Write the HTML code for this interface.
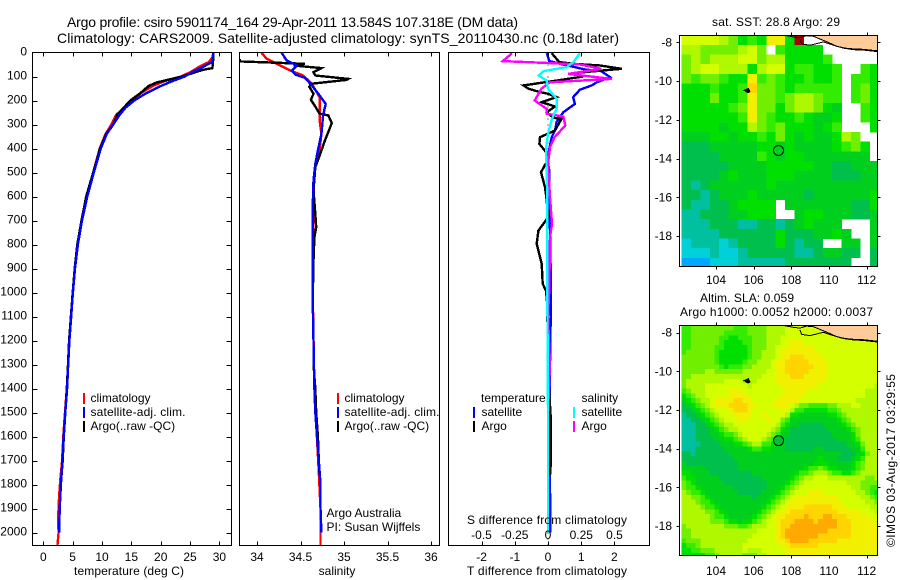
<!DOCTYPE html>
<html>
<head>
<meta charset="utf-8">
<title>Argo profile</title>
<style>
html,body{margin:0;padding:0;background:#fff;}
svg{display:block;}
text{font-family:"Liberation Sans",sans-serif;font-size:12px;fill:#000;}
</style>
</head>
<body>
<svg id="chart" xmlns="http://www.w3.org/2000/svg" width="900" height="580" viewBox="0 0 900 580">
  <defs>
    <clipPath id="clip-t"><rect x="33" y="53" width="198" height="492"/></clipPath>
    <clipPath id="clip-s"><rect x="240" y="53" width="199" height="492"/></clipPath>
    <clipPath id="clip-d"><rect x="449" y="53" width="200" height="492"/></clipPath>
    <clipPath id="clip-m1"><rect x="680" y="36" width="197" height="231"/></clipPath>
    <clipPath id="clip-m2"><rect x="680" y="326" width="197" height="230"/></clipPath>
  </defs>
  <g id="layer-maps"></g>
  <g id="layer-series"></g>
  <g id="layer-axes"></g>

  <text x="67" y="27" style="font-size:14px" textLength="451" lengthAdjust="spacing">Argo profile: csiro 5901174_164 29-Apr-2011 13.584S 107.318E (DM data)</text>
  <text x="57" y="43" style="font-size:14px" textLength="562" lengthAdjust="spacing">Climatology: CARS2009. Satellite-adjusted climatology: synTS_20110430.nc (0.18d later)</text>

  <text x="129" y="575" text-anchor="middle" textLength="110">temperature (deg C)</text>
  <text x="337" y="575" text-anchor="middle">salinity</text>
  <text x="547" y="575" text-anchor="middle" textLength="160">T difference from climatology</text>
  <text x="547" y="524" text-anchor="middle" textLength="160">S difference from climatology</text>

  <g>
    <rect x="83" y="393" width="2" height="11" fill="#f00"/>
    <text x="90.5" y="402">climatology</text>
    <rect x="83" y="407" width="2" height="11" fill="#00f"/>
    <text x="90.5" y="416" textLength="95">satellite-adj. clim.</text>
    <rect x="83" y="421" width="2" height="11" fill="#000"/>
    <text x="90.5" y="430">Argo(..raw -QC)</text>
  </g>
  <g>
    <rect x="337" y="393" width="2" height="11" fill="#f00"/>
    <text x="344.5" y="402">climatology</text>
    <rect x="337" y="407" width="2" height="11" fill="#00f"/>
    <text x="344.5" y="416" textLength="95">satellite-adj. clim.</text>
    <rect x="337" y="421" width="2" height="11" fill="#000"/>
    <text x="344.5" y="430">Argo(..raw -QC)</text>
  </g>
  <text x="326.5" y="517">Argo Australia</text>
  <text x="326.5" y="531">PI: Susan Wijffels</text>
  <g>
    <text x="481" y="402">temperature</text>
    <rect x="473" y="407" width="2" height="11" fill="#00f"/>
    <text x="481.5" y="416">satellite</text>
    <rect x="473" y="421" width="2" height="11" fill="#000"/>
    <text x="481.5" y="430">Argo</text>
    <text x="581.5" y="402">salinity</text>
    <rect x="573" y="407" width="2" height="11" fill="#0ff"/>
    <text x="581.5" y="416">satellite</text>
    <rect x="573" y="421" width="2" height="11" fill="#f0f"/>
    <text x="581.5" y="430">Argo</text>
  </g>

  <text x="776" y="26" text-anchor="middle" textLength="128">sat. SST: 28.8 Argo: 29</text>
  <text x="700" y="302" textLength="94">Altim. SLA: 0.059</text>
  <text x="680" y="316" textLength="193">Argo h1000: 0.0052 h2000: 0.0037</text>
  <text transform="translate(895,547) rotate(-90)" textLength="173">©IMOS 03-Aug-2017 03:29:55</text>
</svg>
<script>
// ---- profile data: depth arrays and values ----
const tempClimDepth = [0,20,40,60,80,100,120,140,170,200,230,260,300,340,400,500,600,700,800,900,1000,1100,1200,1300,1400,1500,1600,1700,1780,1850,1950,2000,2054];
const tempClim = [29,28.8,28.2,26.5,25.2,23.5,20.6,18.6,16.6,15,13.8,12.4,11.6,10.6,9.6,8.5,7.4,6.5,5.9,5.4,5,4.7,4.4,4.2,4,3.7,3.4,3.2,2.9,2.7,2.5,2.6,2.4];
const tempSatDepth = [0,20,40,60,80,100,120,140,170,200,230,260,300,340,400,500,600,700,800,900,1000,1100,1200,1300,1400,1500,1600,1700,1800,1900,2000];
const tempSat = [29,28.9,28.7,27.2,25.5,24.1,21.9,20,17.5,15.5,14,13,11.9,10.8,9.8,8.6,7.5,6.6,5.9,5.4,5.05,4.75,4.45,4.25,4.05,3.75,3.45,3.25,3,2.8,2.7];
const tempArgoDepth = [0,30,65,72,100,125,140,170,200,260,300,340,400,500,600,700,800,900,1000,1100,1200,1300,1400,1500,1600,1700,1762];
const tempArgo = [29,28.95,28.8,27.2,23.6,19.3,17.9,16.5,14.8,12.6,11.9,10.7,9.66,8.5,7.3,6.5,5.8,5.35,5,4.7,4.4,4.2,4,3.75,3.5,3.3,3.1];

const salClimDepth = [0,26,47,75,96,130,186,283,339,408,478,512,600,1000,1400,1750,1900,2054];
const salClim = [34.05,34.11,34.23,34.38,34.53,34.63,34.72,34.72,34.74,34.72,34.67,34.66,34.65,34.64,34.66,34.71,34.73,34.73];
const salSatDepth = [0,33,54,75,92,105,137,179,214,262,339,408,464,533,644,1033,1400,1500,1600,1700,1800,1900,2000];
const salSat = [34.28,34.34,34.46,34.4,34.44,34.55,34.63,34.72,34.79,34.76,34.74,34.7,34.67,34.65,34.64,34.64,34.66,34.67,34.69,34.71,34.73,34.73,34.74];
const salArgoDepth = [28,37,47,54,65,82,96,110,114,130,142,172,197,225,255,262,294,367,430,478,575,672,728,770,867,1033,1200,1300,1400,1500,1600,1700,1760];
const salArgo = [33.8,33.8,34.55,34.42,34.74,34.65,34.67,35.05,35.03,34.63,34.6,34.65,34.62,34.67,34.72,34.82,34.86,34.78,34.72,34.67,34.65,34.67,34.68,34.66,34.65,34.64,34.65,34.65,34.67,34.68,34.7,34.71,34.72];

const diffTSatDepth = [3,36,47,58,72,75,103,124,137,155,186,214,249,290,325,353,422,443,492,603,742,985,1100,1300,1500,1800,2000];
const diffTSat = [-0.04,0.04,0.36,0.71,1.16,1.57,1.87,1.47,1.32,0.96,0.76,0.81,0.46,0.26,0.21,0.11,0.01,-0.02,0.04,0.04,0.06,0.09,0.08,0.06,0.05,0.06,0.07];
const diffTArgoDepth = [3,40,47,54,68,86,100,117,137,151,165,172,186,207,225,249,272,276,325,353,381,415,443,499,561,617,686,742,797,881,964,992,1050,1100,1200,1400,1540,1700,1762];
const diffTArgo = [0.11,0.34,0.76,1.57,2.22,0.76,1.06,0.26,-0.74,-0.59,-0.24,0.01,0.26,-0.19,0.21,-0.04,0.16,0.41,0.21,-0.24,-0.26,-0.06,0.01,-0.21,-0.09,-0.04,0.01,-0.29,-0.34,-0.19,-0.16,-0.06,-0.02,-0.02,0,0.03,0.09,0.09,0.06];
const diffSArgoDepth = [3,36,44,50,68,89,110,124,151,200,235,255,267,304,353,394,464,603,714,769,985,1100,1300,1500,1760];
const diffSArgo = [-0.27,-0.34,0.015,0.24,0.4,0.15,0.48,0.015,-0.05,-0.1,-0.01,-0.01,0.115,0.13,0.05,0.015,0,0.015,0.03,0.015,0.01,0,0.015,0,0];
const diffSSatDepth = [3,40,61,78,96,117,151,193,235,276,339,401,492,603,985,1500,2000];
const diffSSat = [0.24,0.19,0.14,-0.035,-0.07,-0.01,0,0.065,0.065,0.03,0,-0.015,-0.01,-0.005,-0.005,0,0];

// ---- tick labels ----
const depthTicks = [0,100,200,300,400,500,600,700,800,900,1000,1100,1200,1300,1400,1500,1600,1700,1800,1900,2000];
const tempTicks = [0,5,10,15,20,25,30];
const salTicks = [34,34.5,35,35.5,36];
const diffTTicks = [-2,-1,0,1,2];
const diffSTicks = [-0.5,-0.25,0,0.25,0.5];
const sDiffLabels = ['-0.5','-0.25','0','0.25','0.5'];
const lonTicks = [104,106,108,110,112];
const latTicks = [-8,-10,-12,-14,-16,-18];

// ---- profile location, island and coast (lon / lat) ----
const argoLon = 107.318;
const argoLat = -13.584;
const islandLon = [105.45,105.72,105.8,105.7,105.55];
const islandLat = [-10.5,-10.38,-10.55,-10.6,-10.52];
const coastUpperLon = [107.58,108.1,108.46,108.8,109.17,109.6,109.95,110.4,110.85,111.3,111.8,112.57];
const coastUpperLat = [-7.62,-7.72,-7.76,-7.66,-7.69,-7.86,-8.0,-8.2,-8.3,-8.34,-8.36,-8.44];
const coastLowerLon = [108.46,108.55,109.0,109.7,110.23,110.76,111.3,111.8,112.57];
const coastLowerLat = [-7.86,-8.09,-8.15,-7.98,-8.15,-8.3,-8.38,-8.4,-8.48];

// ---- heatmap grids: one character per cell, north to south ('|' only groups columns) ----
const sstRows = [
"999987565aa5r........",
"887777897.65555......",
"7878889978855556.....",
"78998885899566556..65",
"7677655a676556556.665",
"5556556b776566666.675",
"5557556a776788766.675",
"5555567a775788754..65",
"5555556a765565445..65",
"55554558767555456...5",
"4445545565754544587..",
"33344444554544445675.",
"33334444654554444444.",
"333334444555554433444",
"333345444555444433344",
"323444444544444444444",
"332344454444434444445",
"3223345555.4444444335",
"2233344555..455444334",
"22233322332345444...4",
"222233333353334454..4",
"122212333353233..44.4",
"1112112333332234433.3",
"000111222223333333..3"
];
const slaRows = [
"6677777777|7666777788|8899999999|9999999999|99",
"6677777776|6666777788|8899999999|9999999999|99",
"6677777766|5566677788|8999999999|9999999999|99",
"6677777765|5556677788|899aaa9999|9999999999|99",
"6677777665|5555677788|99aaaaaa99|9999999999|99",
"6777777655|5555677888|9aaaaaaaa9|9999999999|99",
"7777777655|5555677888|9aabbbaaaa|9999999999|99",
"7777777655|5556778889|aabbbbbaaa|a999999999|99",
"7777777765|6667788889|aabbbbbbaa|a999999999|99",
"7777788777|7778888899|aabbbbbaaa|a999999999|99",
"7788888888|8888888999|aaabbbaaaa|a999999999|99",
"7888888889|9998889999|aaaaaaaaaa|9999999999|99",
"7888899999|9999899999|9aaaaaaaa9|9999999999|98",
"6788899999|aaa9999999|99aaaaa999|9999999998|88",
"5678899999|aaaa999999|9aaaaa9999|9999999998|88",
"4567889aaa|abbaa99999|aaaaa99999|9999999888|88",
"3456789aaa|bbbbaa999a|aaa9877666|6778889988|88",
"3345678999|abbba99999|9a98665555|5667888888|88",
"2334567899|9aaaa99a99|9985544444|4556788888|88",
"2233456789|99aa9999a9|9764444444|4445678888|88",
"2223345678|8999999999|8654433333|4444567888|88",
"2223334567|8899999998|7543333333|3444456788|88",
"2223334456|6789999987|6443333333|3344445788|88",
"2223333445|5678999876|5433333333|3334445688|88",
"2222333344|4556788665|4433333333|3333344578|88",
"2223333334|4444566554|4433333344|3333334468|88",
"3323333333|4444444444|4444444444|4444333457|88",
"3333333333|3444444444|4444444445|4443334568|88",
"4333333333|3344444444|4444444455|5444445678|88",
"4444433333|3344444444|4444445667|6554445678|88",
"5544443333|3333344444|4444566788|8766556788|88",
"6554444433|3333333444|4445678899|9888888887|78",
"7654444443|3333333344|4456789999|9999988877|77",
"7665444444|4333333344|4567899999|9999998877|66",
"8766544444|4433333444|5678999aaa|9999999887|65",
"8877654444|4444434445|6789aaaaaa|aaa9999988|76",
"8887665444|4444444456|789aaaaaaa|aaaa999998|87",
"8888766544|4444444567|89aaaabbbb|bbaaa99999|88",
"8888877654|4444445678|9aabbbbbbb|bbbaaaaa99|98",
"8888887665|4444456789|aabbbbcbbb|ccbbbaaaaa|99",
"8888887776|5545567899|abbbccccbc|cccbbbaaaa|a9",
"7888888887|7766788899|abbccccccc|cccbbbaaaa|aa",
"7788888888|8888889999|abcccccccc|cbbbbbaaaa|aa",
"7788888888|8888899999|abcccccccb|bbbbbbaaaa|aa",
"6777888888|8888999999|aabccccbbb|bbbaaaaaaa|aa",
"5667888888|8889999999|9aabbbbbba|aaaaaaaaaa|aa",
"5566777888|8889888999|99aaaaaaaa|aaaaaaaaaa|aa",
"5555566788|8887778899|999aaaaaaa|aaaaaaaa99|99"
];
const sstStepDeg = 0.5;
const slaStepDeg = 0.25;
const gridStartLon = 102.17;

// ---- colour scale (style only) ----
const colourScale = {'0':'#00a8ff','1':'#00d0d8','2':'#00c0a0','3':'#00bf4c','4':'#00cf1e','5':'#00e000','6':'#33ec00','7':'#70f000','8':'#b0f800','9':'#d4ff00','a':'#f0f000','b':'#ffd400','c':'#ffaa00','r':'#a80000'};

// ---- axis functions ----
const depthY = d => 52.5 + d * 0.24;
const tempX = t => 43.3 + t * 5.87;
const salX = s => 257 + (s - 34) * 87;
const diffTX = t => 548 + t * 33.2;
const diffSX = s => 548 + s * 133;
const lonX = lon => 716 + (lon - 104) * 18.83;
const lat1Y = lat => 42.3 + (-8 - lat) * 19.37;
const lat2Y = lat => 332.7 + (-8 - lat) * 19.33;

const NS = 'http://www.w3.org/2000/svg';
const mapLayer = document.getElementById('layer-maps');
const seriesLayer = document.getElementById('layer-series');
const axesLayer = document.getElementById('layer-axes');

function drawProfile(name, depths, values, xFn, colour, clip) {
  const el = document.createElementNS(NS, 'polyline');
  
  
  el.setAttribute('points', depths.map((d, i) => xFn(values[i]).toFixed(1) + ',' + depthY(d).toFixed(1)).join(' '));
  el.setAttribute('fill', 'none');
  el.setAttribute('stroke', colour);
  el.setAttribute('stroke-width', '2.4');
  el.setAttribute('shape-rendering', 'crispEdges');
  el.setAttribute('clip-path', 'url(#' + clip + ')');
  seriesLayer.appendChild(el);
}

function drawTick(x1, y1, x2, y2) {
  const el = document.createElementNS(NS, 'line');
  
  
  el.setAttribute('x1', x1);
  el.setAttribute('y1', y1);
  el.setAttribute('x2', x2);
  el.setAttribute('y2', y2);
  el.setAttribute('stroke', '#000');
  el.setAttribute('shape-rendering', 'crispEdges');
  axesLayer.appendChild(el);
}

function drawLabel(x, y, anchor, str) {
  const el = document.createElementNS(NS, 'text');
  
  
  el.setAttribute('x', x);
  el.setAttribute('y', y);
  el.setAttribute('text-anchor', anchor);
  el.textContent = str;
  axesLayer.appendChild(el);
}

function drawFrame(name, l, t, r, b) {
  const el = document.createElementNS(NS, 'rect');
  
  
  el.setAttribute('x', l);
  el.setAttribute('y', t);
  el.setAttribute('width', r - l);
  el.setAttribute('height', b - t);
  el.setAttribute('fill', 'none');
  el.setAttribute('stroke', '#000');
  el.setAttribute('shape-rendering', 'crispEdges');
  axesLayer.appendChild(el);
}

function drawHeatmap(name, rows, latFn, topLat, clip, step) {
  rows.forEach((row, r) => {
    [...row.split('|').join('')].forEach((ch, c) => {
      if (!colourScale[ch]) return;
      const x0 = lonX(gridStartLon + c * step);
      const x1 = lonX(gridStartLon + (c + 1) * step);
      const y0 = latFn(topLat - r * step);
      const y1 = latFn(topLat - (r + 1) * step);
      const el = document.createElementNS(NS, 'rect');
      
      
      el.setAttribute('x', x0.toFixed(1));
      el.setAttribute('y', y0.toFixed(1));
      el.setAttribute('width', (x1 - x0 + 0.3).toFixed(1));
      el.setAttribute('height', (y1 - y0 + 0.3).toFixed(1));
      el.setAttribute('fill', colourScale[ch]);
      el.setAttribute('clip-path', 'url(#' + clip + ')');
      el.setAttribute('shape-rendering', 'crispEdges');
      mapLayer.appendChild(el);
    });
  });
}

function drawGeo(name, lons, lats, latFn, fill, clip, strokeW) {
  const el = document.createElementNS(NS, 'polyline');
  
  
  el.setAttribute('points', lons.map((lo, i) => lonX(lo).toFixed(1) + ',' + latFn(lats[i]).toFixed(1)).join(' '));
  el.setAttribute('fill', fill);
  el.setAttribute('stroke', '#000');
  el.setAttribute('stroke-width', strokeW);
  el.setAttribute('shape-rendering', 'crispEdges');
  el.setAttribute('clip-path', 'url(#' + clip + ')');
  mapLayer.appendChild(el);
}

function drawLand(latFn, clip) {
  const lons = coastUpperLon.slice(4).concat([113, 113]);
  const lats = coastUpperLat.slice(4).concat([-8.5, -7]);
  lons.push(109.17);
  lats.push(-7);
  const el = document.createElementNS(NS, 'polygon');
  
  
  el.setAttribute('points', lons.map((lo, i) => lonX(lo).toFixed(1) + ',' + latFn(lats[i]).toFixed(1)).join(' '));
  el.setAttribute('fill', '#ffcc99');
  el.setAttribute('clip-path', 'url(#' + clip + ')');
  mapLayer.appendChild(el);
}

function drawMarker(latFn, fill) {
  const el = document.createElementNS(NS, 'circle');
  
  
  el.setAttribute('cx', lonX(argoLon).toFixed(1));
  el.setAttribute('cy', latFn(argoLat).toFixed(1));
  el.setAttribute('r', '5');
  el.setAttribute('fill', fill);
  el.setAttribute('stroke', '#000');
  mapLayer.appendChild(el);
}

// ---- maps ----
function drawMap(rows, latFn, topLat, clip, l, t, r, b, labelY, markerFill, heatName, frameName, step) {
  drawHeatmap(heatName, rows, latFn, topLat, clip, step);
  drawLand(latFn, clip);
  drawGeo('coastline', coastUpperLon, coastUpperLat, latFn, 'none', clip, 1);
  drawGeo('coastline', coastLowerLon, coastLowerLat, latFn, 'none', clip, 1);
  drawGeo('christmas-island', islandLon, islandLat, latFn, '#000', clip, 1);
  drawMarker(latFn, markerFill);
  drawFrame(frameName, l, t, r, b);
  lonTicks.forEach(lo => {
    const x = Math.round(lonX(lo)) + 0.5;
    drawTick(x, t - 3, x, t);
    drawTick(x, b, x, b + 3);
    drawLabel(lonX(lo), labelY, 'middle', String(lo));
  });
  latTicks.forEach(la => {
    const y = Math.round(latFn(la)) + 0.5;
    drawTick(l - 3, y, l, y);
    drawTick(r, y, r + 3, y);
    drawLabel(672, latFn(la) + 4, 'end', String(la));
  });
}
drawMap(sstRows, lat1Y, -7.63, 'clip-m1', 679.5, 35.5, 877.5, 266.5, 284, 'none', 'sst-cell', 'sst-map-frame', sstStepDeg);
drawMap(slaRows, lat2Y, -7.64, 'clip-m2', 679.5, 325.5, 877.5, 555.5, 575, '#00c034', 'sla-cell', 'sla-map-frame', slaStepDeg);

// ---- zero line in difference panel ----
const zeroLine = document.createElementNS(NS, 'line');


zeroLine.setAttribute('x1', diffTX(0));
zeroLine.setAttribute('x2', diffTX(0));
zeroLine.setAttribute('y1', depthY(0));
zeroLine.setAttribute('y2', depthY(2054));
zeroLine.setAttribute('stroke', '#000');
zeroLine.setAttribute('stroke-dasharray', '1 5');
seriesLayer.appendChild(zeroLine);

// ---- profiles ----
drawProfile('temperature-climatology-line', tempClimDepth, tempClim, tempX, '#f00', 'clip-t');
drawProfile('temperature-argo-line', tempArgoDepth, tempArgo, tempX, '#000', 'clip-t');
drawProfile('temperature-satellite-line', tempSatDepth, tempSat, tempX, '#00f', 'clip-t');
drawProfile('salinity-climatology-line', salClimDepth, salClim, salX, '#f00', 'clip-s');
drawProfile('salinity-argo-line', salArgoDepth, salArgo, salX, '#000', 'clip-s');
drawProfile('salinity-satellite-line', salSatDepth, salSat, salX, '#00f', 'clip-s');
drawProfile('t-difference-satellite-line', diffTSatDepth, diffTSat, diffTX, '#00f', 'clip-d');
drawProfile('t-difference-argo-line', diffTArgoDepth, diffTArgo, diffTX, '#000', 'clip-d');
drawProfile('s-difference-argo-line', diffSArgoDepth, diffSArgo, diffSX, '#f0f', 'clip-d');
drawProfile('s-difference-satellite-line', diffSSatDepth, diffSSat, diffSX, '#0ff', 'clip-d');

// ---- profile axes ----
const panelTop = 52.5;
const panelBottom = 545.5;
function drawXAxis(ticks, xFn, labels) {
  ticks.forEach((v, i) => {
    const x = Math.round(xFn(v)) + 0.5;
    drawTick(x, panelTop, x, panelTop + 4);
    drawTick(x, panelBottom - 4, x, panelBottom);
    if (labels) drawLabel(xFn(v), 561, 'middle', String(labels[i]));
  });
}
drawFrame('temperature-panel-frame', 32.5, panelTop, 231.5, panelBottom);
drawFrame('salinity-panel-frame', 239.5, panelTop, 439.5, panelBottom);
drawFrame('difference-panel-frame', 448.5, panelTop, 649.5, panelBottom);
drawXAxis(tempTicks, tempX, tempTicks);
drawXAxis(salTicks, salX, salTicks);
drawXAxis(diffTTicks, diffTX, diffTTicks);
diffSTicks.forEach((v, i) => {
  drawLabel(diffSX(v), 539, 'middle', sDiffLabels[i]);
});
depthTicks.forEach(d => {
  const y = Math.round(depthY(d)) + 0.5;
  if (d > 0) {
    drawTick(32.5, y, 37.5, y);
    drawTick(226.5, y, 231.5, y);
  }
  drawLabel(27, depthY(d) + 3, 'end', String(d));
});
</script>
</body>
</html>
